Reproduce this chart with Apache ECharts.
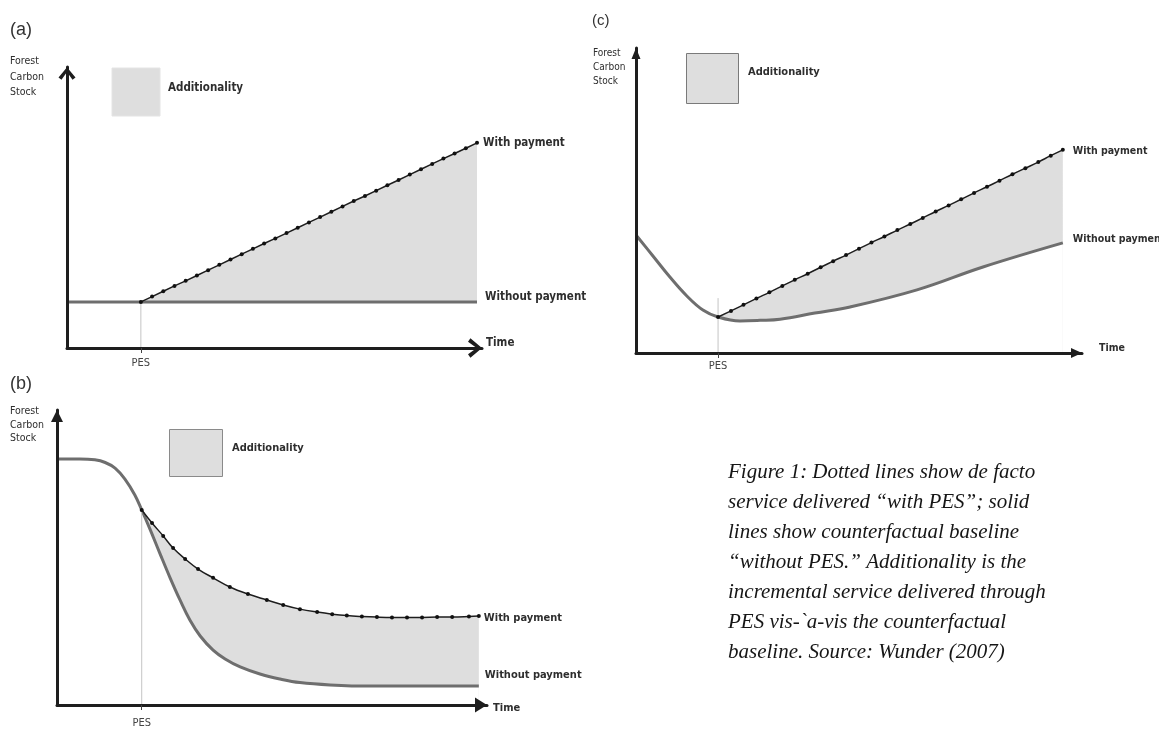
<!DOCTYPE html>
<html><head><meta charset="utf-8">
<script src="https://cdn.jsdelivr.net/npm/echarts@6/dist/echarts.min.js"></script>
<style>html,body{margin:0;padding:0;background:#fff}#c{width:1159px;height:729px}</style>
</head><body><div id="c"></div>
<script>
// ---------- data (x: time 0..100, y: forest carbon stock 0..100) ----------
const tickLabel = 'PES';
const seriesNames = ['With payment', 'Without payment'];
const axisNames = ['Time', 'Forest\nCarbon\nStock'];
const legendName = 'Additionality';
const panelNames = ['(a)', '(b)', '(c)'];

// Panel (a)
const aPES = 17.8;
const aWithout = [[0,16.4],[17.8,16.4],[98.8,16.4]];
const aWith = [[17.8,16.4],[20.5,18.3],[23.2,20.2],[25.9,22.1],[28.6,23.9],[31.3,25.8],[34.0,27.7],[36.7,29.6],
  [39.4,31.5],[42.1,33.4],[44.8,35.3],[47.5,37.2],[50.2,39.0],[52.9,40.9],[55.6,42.8],[58.3,44.7],[61.0,46.6],
  [63.7,48.5],[66.4,50.4],[69.1,52.3],[71.8,54.1],[74.5,56.0],[77.2,57.9],[79.9,59.8],[82.6,61.7],[85.3,63.6],
  [88.0,65.5],[90.7,67.4],[93.4,69.2],[96.1,71.1],[98.8,73.0]];
const aGuideTop = 16.4;

// Panel (b)
const bPES = 19.7;
const bWithout = [[0,83.4],[5.3,83.4],[8.8,83.1],[11.2,82.2],[13.5,80.3],[15.8,76.6],[18.1,71.2],[19.7,66.1],
  [21.6,59.7],[23.9,51.5],[26.3,43.1],[28.6,35.6],[30.9,28.8],[33.3,23.4],[36.3,18.6],[39.1,15.6],[42.6,12.9],
  [47.2,10.5],[51.9,8.8],[56.5,7.6],[63.5,6.8],[72.8,6.4],[84.4,6.4],[98.1,6.4]];
const bWith = [[19.7,66.1],[22.1,61.7],[24.7,57.3],[27.0,53.2],[29.8,49.5],[32.8,46.1],[36.3,43.1],[40.2,40.0],
  [44.4,37.6],[48.8,35.6],[52.6,33.9],[56.5,32.5],[60.5,31.5],[64.0,30.8],[67.4,30.3],[70.9,30.0],[74.4,29.8],
  [77.9,29.7],[81.4,29.7],[84.9,29.7],[88.4,29.8],[91.9,29.8],[95.8,30.0],[98.1,30.2]];
const bGuideTop = 66.1;

// Panel (c)
const cPES = 18.4;
const cWithout = [[0,38.7],[3.8,31.8],[7.6,24.9],[11.4,18.7],[15.0,14.1],[18.4,11.8],[23.3,10.5],[27.8,10.7],
  [32.3,11.1],[40.1,13.1],[48.0,15.1],[63.0,20.7],[77.8,28.2],[95.7,36.1]];
const cWith = [[18.4,11.8],[21.3,13.8],[24.1,15.8],[27.0,17.9],[29.9,19.9],[32.8,22.0],[35.6,24.0],[38.5,26.0],
  [41.4,28.1],[44.2,30.1],[47.1,32.1],[50.0,34.2],[52.8,36.2],[55.7,38.2],[58.6,40.3],[61.5,42.3],[64.3,44.3],
  [67.2,46.4],[70.1,48.4],[72.9,50.4],[75.8,52.5],[78.7,54.5],[81.5,56.5],[84.4,58.6],[87.3,60.6],[90.2,62.6],
  [93.0,64.7],[95.7,66.6]];
const cGuideTop = 18.0;

const caption = 'Figure 1: Dotted lines show de facto\nservice delivered \u201cwith PES\u201d; solid\nlines show counterfactual baseline\n\u201cwithout PES.\u201d Additionality is the\nincremental service delivered through\nPES vis-`a-vis the counterfactual\nbaseline. Source: Wunder (2007)';

// ---------- styling ----------
const FONT = 'DejaVu Sans Condensed';
const TXT = '#2e2e2e';
const FILL = '#dedede';
const chevron = 'path://M0,12 L10,0 L20,12 L16.5,14.5 L10,5.5 L3.5,14.5 Z';

const panels = [
  {grid:{left:67, top:67, width:415, height:281}, pes:aPES, without:aWithout, withP:aWith, guide:aGuideTop,
   smooth:false, arrow:chevron, xSym:[20,14], ySym:[17,13], pesMargin:10,
   withOff:[1,0], withoutOff:[3,-5], lblSize:11.5},
  {grid:{left:57, top:410, width:430, height:295}, pes:bPES, without:bWithout, withP:bWith, guide:bGuideTop,
   smooth:0.4, arrow:'triangle', xSym:[15,12], ySym:[12,12], pesMargin:13,
   withOff:[0,2], withoutOff:[1,-11], lblSize:11},
  {grid:{left:636, top:48, width:446, height:305}, pes:cPES, without:cWithout, withP:cWith, guide:cGuideTop,
   smooth:0.4, arrow:'triangle', xSym:[10,11], ySym:[9,11], pesMargin:8,
   withOff:[5,1], withoutOff:[5,-4], lblSize:10.5}
];

const grids = [], xAxes = [], yAxes = [], series = [];
panels.forEach((p, i) => {
  grids.push(p.grid);
  xAxes.push({
    type:'value', gridIndex:i, min:0, max:100, z:10,
    axisLine:{show:true, onZero:false, symbol:['none', p.arrow], symbolSize:p.xSym, symbolOffset:[0, -p.xSym[1]/2],
      lineStyle:{color:'#1e1e1e', width:3}},
    splitLine:{show:false},
    axisTick:{show:true, customValues:[p.pes], length:5, lineStyle:{color:'#444', width:1}},
    axisLabel:{show:true, customValues:[p.pes], formatter:() => tickLabel, margin:p.pesMargin,
      fontFamily:FONT, fontSize:11, color:'#444'}
  });
  yAxes.push({
    type:'value', gridIndex:i, min:0, max:100, z:10,
    axisLine:{show:true, onZero:false, symbol:['none', p.arrow], symbolSize:p.ySym, symbolOffset:[0, -p.ySym[1]/2],
      lineStyle:{color:'#1e1e1e', width:3}},
    splitLine:{show:false}, axisTick:{show:false}, axisLabel:{show:false}
  });
  const lbl = (txt, off) => ({show:true, formatter:() => txt, offset:off, distance:5,
    fontFamily:FONT, fontWeight:'bold', fontSize:p.lblSize, color:TXT});
  // shaded additionality (area under "with", then masked below "without")
  series.push({type:'line', xAxisIndex:i, yAxisIndex:i, data:p.withP, smooth:p.smooth,
    symbol:'none', lineStyle:{opacity:0}, areaStyle:{color:FILL, opacity:1, origin:'start'}, z:1, silent:true});
  series.push({type:'line', xAxisIndex:i, yAxisIndex:i, data:p.without, smooth:p.smooth,
    symbol:'none', lineStyle:{color:'#6e6e6e', width:3}, areaStyle:{color:'#ffffff', opacity:1, origin:'start'},
    z:2, silent:true, endLabel:lbl(seriesNames[1], p.withoutOff)});
  series.push({type:'line', xAxisIndex:i, yAxisIndex:i, data:[[p.pes,0],[p.pes,p.guide]], symbol:'none',
    lineStyle:{color:'#c4c4c4', width:1}, z:3, silent:true});
  series.push({type:'line', xAxisIndex:i, yAxisIndex:i, data:p.withP, smooth:p.smooth,
    symbol:'circle', symbolSize:4, showAllSymbol:true, itemStyle:{color:'#111'},
    lineStyle:{color:'#1e1e1e', width:1.5}, z:4, silent:true, endLabel:lbl(seriesNames[0], p.withOff)});
});

const T = (x, y, text, size, extra) => Object.assign({type:'text', x, y, silent:true,
  style:Object.assign({text, fontFamily:FONT, fontSize:size, fill:TXT, textVerticalAlign:'middle'}, extra || {})});
const graphic = [
  // panel letters
  T(10, 30, panelNames[0], 18, {fontFamily:'Liberation Sans', fill:'#333'}),
  T(10, 384, panelNames[1], 18, {fontFamily:'Liberation Sans', fill:'#333'}),
  T(592, 21, panelNames[2], 15, {fontFamily:'Liberation Sans', fill:'#333'}),
  // y titles
  T(10, 54, axisNames[1], 10.5, {textVerticalAlign:'top', lineHeight:15.5}),
  T(10, 405, axisNames[1], 10.5, {textVerticalAlign:'top', lineHeight:13.5}),
  T(593, 46, axisNames[1], 10, {textVerticalAlign:'top', lineHeight:14}),
  // x titles
  T(486, 343, axisNames[0], 11.5, {fontWeight:'bold'}),
  T(493, 708, axisNames[0], 11, {fontWeight:'bold'}),
  T(1099, 348, axisNames[0], 10.5, {fontWeight:'bold'}),
  // legends
  {type:'rect', shape:{x:112, y:68, width:48, height:48}, style:{fill:FILL, stroke:'#e4e4e4', lineWidth:1}, silent:true},
  T(168, 88, legendName, 11.5, {fontWeight:'bold'}),
  {type:'rect', shape:{x:169.5, y:429.5, width:53, height:47}, style:{fill:FILL, stroke:'#8a8a8a', lineWidth:1}, silent:true},
  T(232, 448, legendName, 11, {fontWeight:'bold'}),
  {type:'rect', shape:{x:686.5, y:53.5, width:52, height:50}, style:{fill:FILL, stroke:'#7a7a7a', lineWidth:1}, silent:true},
  T(748, 72, legendName, 11, {fontWeight:'bold'}),
  // caption
  {type:'text', x:728, y:457, silent:true, style:{text:caption, font:'italic 21px "Liberation Serif"',
    fill:'#161616', lineHeight:30, textVerticalAlign:'top'}}
];

const chart = echarts.init(document.getElementById('c'), null, {renderer:'canvas'});
chart.setOption({animation:false, backgroundColor:'#fff', grid:grids, xAxis:xAxes, yAxis:yAxes, series, graphic});
</script></body></html>
